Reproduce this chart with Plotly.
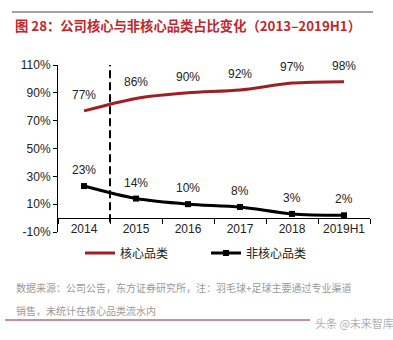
import plotly.graph_objects as go

categories = ["2014", "2015", "2016", "2017", "2018", "2019H1"]
core_share = [77, 86, 90, 92, 97, 98]
noncore_share = [23, 14, 10, 8, 3, 2]
series_names = ["核心品类", "非核心品类"]
y_ticks = [-10, 10, 30, 50, 70, 90, 110]

title_text = "图 28：公司核心与非核心品类占比变化（2013–2019H1）"
note_line1 = "数据来源：公司公告，东方证券研究所，注：羽毛球+足球主要通过专业渠道"
note_line2 = "销售，未统计在核心品类流水内"
watermark = "头条 @未来智库"

W, H = 393, 340
L, R, T, B = 58, 23, 65, 108
PW, PH = W - L - R, H - T - B

def px_x(x):
    return (x - L) / PW

def px_y(y):
    return (H - B - y) / PH

RED = "#9E1F24"
LATIN = "Arial, Liberation Sans, sans-serif"
CJK = "Noto Sans CJK SC, sans-serif"

fig = go.Figure()
fig.add_trace(go.Scatter(
    x=categories, y=core_share, name=series_names[0], mode="lines",
    line=dict(color=RED, width=3, shape="spline", smoothing=0.8),
    legend="legend",
))
fig.add_trace(go.Scatter(
    x=categories, y=noncore_share, name=series_names[1], mode="lines+markers",
    line=dict(color="#000000", width=3, shape="spline", smoothing=0.8),
    marker=dict(symbol="square", size=6, color="#000000"),
    legend="legend2",
))

annotations = []
for series in (core_share, noncore_share):
    for i, v in enumerate(series):
        annotations.append(dict(
            x=i, y=v, xref="x", yref="y", text=f"{v}%", showarrow=False,
            yshift=16, font=dict(family=LATIN, size=12, color="#222"),
        ))

annotations += [
    dict(x=px_x(13), y=px_y(25), xref="paper", yref="paper", text=f"<b>{title_text}</b>",
         showarrow=False, xanchor="left", yanchor="middle",
         font=dict(family=CJK, size=13.3, color="#C0282D")),
    dict(x=px_x(14), y=px_y(287), xref="paper", yref="paper", text=note_line1,
         showarrow=False, xanchor="left", yanchor="middle",
         font=dict(family=CJK, size=10, color="#9a9a9a")),
    dict(x=px_x(14), y=px_y(310), xref="paper", yref="paper", text=note_line2,
         showarrow=False, xanchor="left", yanchor="middle",
         font=dict(family=CJK, size=10, color="#9a9a9a")),
    dict(x=px_x(313), y=px_y(323), xref="paper", yref="paper", text=watermark,
         showarrow=False, xanchor="left", yanchor="middle",
         font=dict(family=CJK, size=11, color="#b0b0b0")),
]

shapes = [
    dict(type="line", xref="x", yref="y", x0=0.5, x1=0.5, y0=-3, y1=110,
         line=dict(color="#000", width=2, dash="8px,4px")),
    dict(type="line", xref="paper", yref="paper", x0=px_x(12), x1=px_x(373),
         y0=px_y(12), y1=px_y(12), line=dict(color="#444", width=1)),
    dict(type="line", xref="paper", yref="paper", x0=px_x(5), x1=px_x(310),
         y0=px_y(320), y1=px_y(320), line=dict(color=RED, width=1)),
]

legend_common = dict(orientation="h", yanchor="middle", xanchor="left",
                     font=dict(family=CJK, size=12, color="#222"),
                     bgcolor="rgba(0,0,0,0)")

ymin, ymax = y_ticks[0], y_ticks[-1]
fig.update_layout(
    width=W, height=H, margin=dict(l=L, r=R, t=T, b=B),
    paper_bgcolor="white", plot_bgcolor="white",
    showlegend=True,
    legend=dict(x=px_x(80), y=px_y(253), **legend_common),
    legend2=dict(x=px_x(206), y=px_y(253), **legend_common),
    annotations=annotations, shapes=shapes,
    xaxis=dict(type="category", range=[-0.5, len(categories) - 0.5],
               anchor="free", position=(0 - ymin) / (ymax - ymin),
               showline=True, linecolor="#000", linewidth=1,
               ticks="outside", tickson="boundaries", ticklen=5, tickcolor="#000",
               showgrid=False, zeroline=False,
               tickfont=dict(family=LATIN, size=12, color="#222")),
    yaxis=dict(range=[ymin, ymax], tickvals=y_ticks, ticktext=[f"{v}%" for v in y_ticks],
               showline=True, linecolor="#000", linewidth=1,
               ticks="outside", ticklen=4, tickcolor="#000",
               showgrid=False, zeroline=False,
               tickfont=dict(family=LATIN, size=12, color="#222")),
)

fig.write_html("out.html")
